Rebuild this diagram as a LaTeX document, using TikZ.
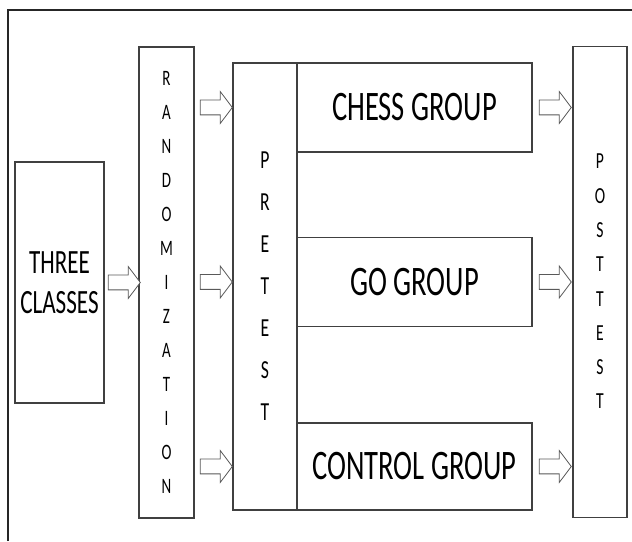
\documentclass[tikz,border=0pt]{standalone}
\usepackage{fontspec}
\setmainfont{Carlito}
\usepackage{graphicx}
\usetikzlibrary{positioning,shapes.arrows}
\newcommand{\narrow}[1]{\scalebox{0.68}[1]{#1}}
\tikzset{
  box/.style={
    draw=black!75,
    line width=1.1pt,
    fill=white,
    align=center,
    inner sep=0pt,
    outer sep=0pt
  },
  tall/.style={
    box,
    minimum width=55pt,
    minimum height=471pt
  },
  group/.style={
    box,
    minimum width=235pt,
    minimum height=89pt,
    font=\fontsize{42}{48}\selectfont
  },
  blockarr/.style={
    single arrow,
    draw=black!65,
    line width=0.8pt,
    fill=white,
    minimum height=32pt,
    single arrow head extend=8.5pt,
    single arrow tip angle=106,
    single arrow head indent=0pt,
    inner xsep=0pt,
    inner ysep=7pt
  },
  frame/.style={
    draw=black!85,
    line width=1.2pt
  }
}

\begin{document}
\begin{tikzpicture}[x=1pt,y=1pt]
\useasboundingbox (0,0) rectangle (632,541);
\draw[frame] (8,0) -- (8,531) -- (632,531);
% boxes
\node[box,minimum width=89pt,minimum height=241pt,font=\fontsize{34}{40}\selectfont] (cls) at (59.5,258.5)
  {\narrow{THREE}\\\narrow{CLASSES}};
\node[tall,right=35pt of cls,font=\fontsize{22}{34}\selectfont] (rnd)
  {\narrow{\begin{tabular}{@{}c@{}}R\\A\\N\\D\\O\\M\\I\\Z\\A\\T\\I\\O\\N\end{tabular}}};
\node[box,minimum width=64pt,minimum height=447pt,right=39pt of rnd,yshift=-4pt,font=\fontsize{26}{42}\selectfont] (pre)
  {\narrow{\begin{tabular}{@{}c@{}}P\\R\\E\\T\\E\\S\\T\end{tabular}}};
\node[group,anchor=north west] (chess) at (pre.north east) {\narrow{CHESS GROUP}};
\node[group,anchor=west] (go) at ([yshift=4.5pt]pre.east) {\narrow{GO GROUP}};
\node[group,anchor=south west,minimum height=87pt] (ctrl) at (pre.south east) {\narrow{CONTROL GROUP}};
\node[tall,minimum width=54pt,right=41pt of go,font=\fontsize{23}{34.3}\selectfont] (post)
  {\narrow{\begin{tabular}{@{}c@{}}P\\O\\S\\T\\T\\E\\S\\T\end{tabular}}};
% arrows
\path (cls.east) -- node[blockarr] {} (rnd.west);
\path (rnd.east |- chess) -- node[blockarr] {} (pre.west |- chess);
\path (rnd.east |- go) -- node[blockarr] {} (pre.west |- go);
\path (rnd.east |- ctrl) -- node[blockarr] {} (pre.west |- ctrl);
\path (chess.east) -- node[blockarr] {} (post.west |- chess.east);
\path (go.east) -- node[blockarr] {} (post.west |- go.east);
\path (ctrl.east) -- node[blockarr] {} (post.west |- ctrl.east);
\end{tikzpicture}
\end{document}
